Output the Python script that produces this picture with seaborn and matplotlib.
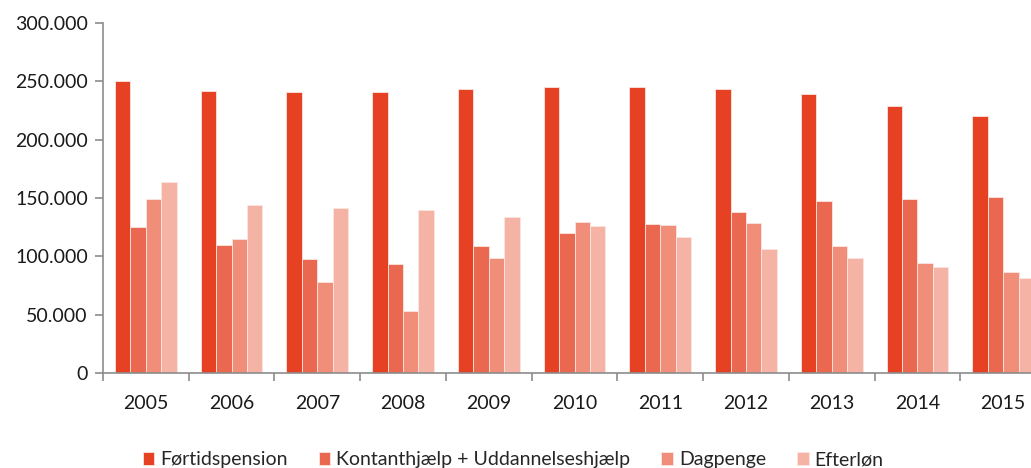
import pandas as pd
import matplotlib.pyplot as plt
from matplotlib.ticker import FuncFormatter, FixedLocator
import seaborn as sns

years = ["2005", "2006", "2007", "2008", "2009", "2010", "2011", "2012", "2013", "2014", "2015"]
series = ["Førtidspension", "Kontanthjælp + Uddannelseshjælp", "Dagpenge", "Efterløn"]

fortid = [250000, 242000, 240500, 241200, 243400, 244900, 245000, 243700, 238900, 229000, 220300]
kontant = [125000, 110000, 98000, 93400, 109200, 120300, 127400, 137700, 147700, 149000, 150900]
dagpenge = [149500, 115000, 78000, 52900, 98300, 129700, 127000, 128300, 109000, 94000, 86300]
efterlon = [163500, 144000, 141400, 139700, 133700, 126000, 116300, 106300, 98800, 90900, 81400]

colors = ["#E54122", "#EB6850", "#F08E7A", "#F5B3A6"]

data = pd.DataFrame({
    "year": years * 4,
    "serie": [s for s in series for _ in years],
    "value": fortid + kontant + dagpenge + efterlon,
})

sns.set_style("white")
plt.rcParams["font.family"] = ["Lato", "DejaVu Sans"]

fig = plt.figure(figsize=(10.31, 4.68), dpi=100)
ax = fig.add_axes([103 / 1031, 95 / 468, 943 / 1031, 350 / 468])

sns.barplot(data=data, x="year", y="value", hue="serie", palette=colors, saturation=1,
            width=0.72, edgecolor="#fbe6e0", linewidth=0.6, ax=ax)

ax.set_xlim(-0.5, 10.5)
ax.set_ylim(0, 300000)
ax.set_yticks(range(0, 300001, 50000))
ax.yaxis.set_major_formatter(FuncFormatter(lambda v, p: f"{int(v):,}".replace(",", ".")))
ax.set_xlabel("")
ax.set_ylabel("")

for s in ["top", "right"]:
    ax.spines[s].set_visible(False)
for s in ["left", "bottom"]:
    ax.spines[s].set_color("#8c8c8c")
    ax.spines[s].set_linewidth(1.2)

ax.tick_params(axis="y", length=6, width=1.2, color="#8c8c8c", labelsize=14,
               labelcolor="#1a1a1a", pad=5, left=True)
ax.tick_params(axis="x", which="major", length=0, labelsize=14, labelcolor="#1a1a1a", pad=16)
ax.xaxis.set_minor_locator(FixedLocator([i - 0.5 for i in range(12)]))
ax.tick_params(axis="x", which="minor", length=6, width=1.2, color="#8c8c8c", bottom=True)

handles, labels = ax.get_legend_handles_labels()
ax.legend(handles, labels, loc="lower left", bbox_to_anchor=(125 / 1031, -0.038),
          bbox_transform=fig.transFigure, ncol=4, frameon=False, fontsize=14,
          handlelength=0.6, handleheight=0.6, handletextpad=0.3, columnspacing=1.6)

fig.savefig("out.png", dpi=100)
